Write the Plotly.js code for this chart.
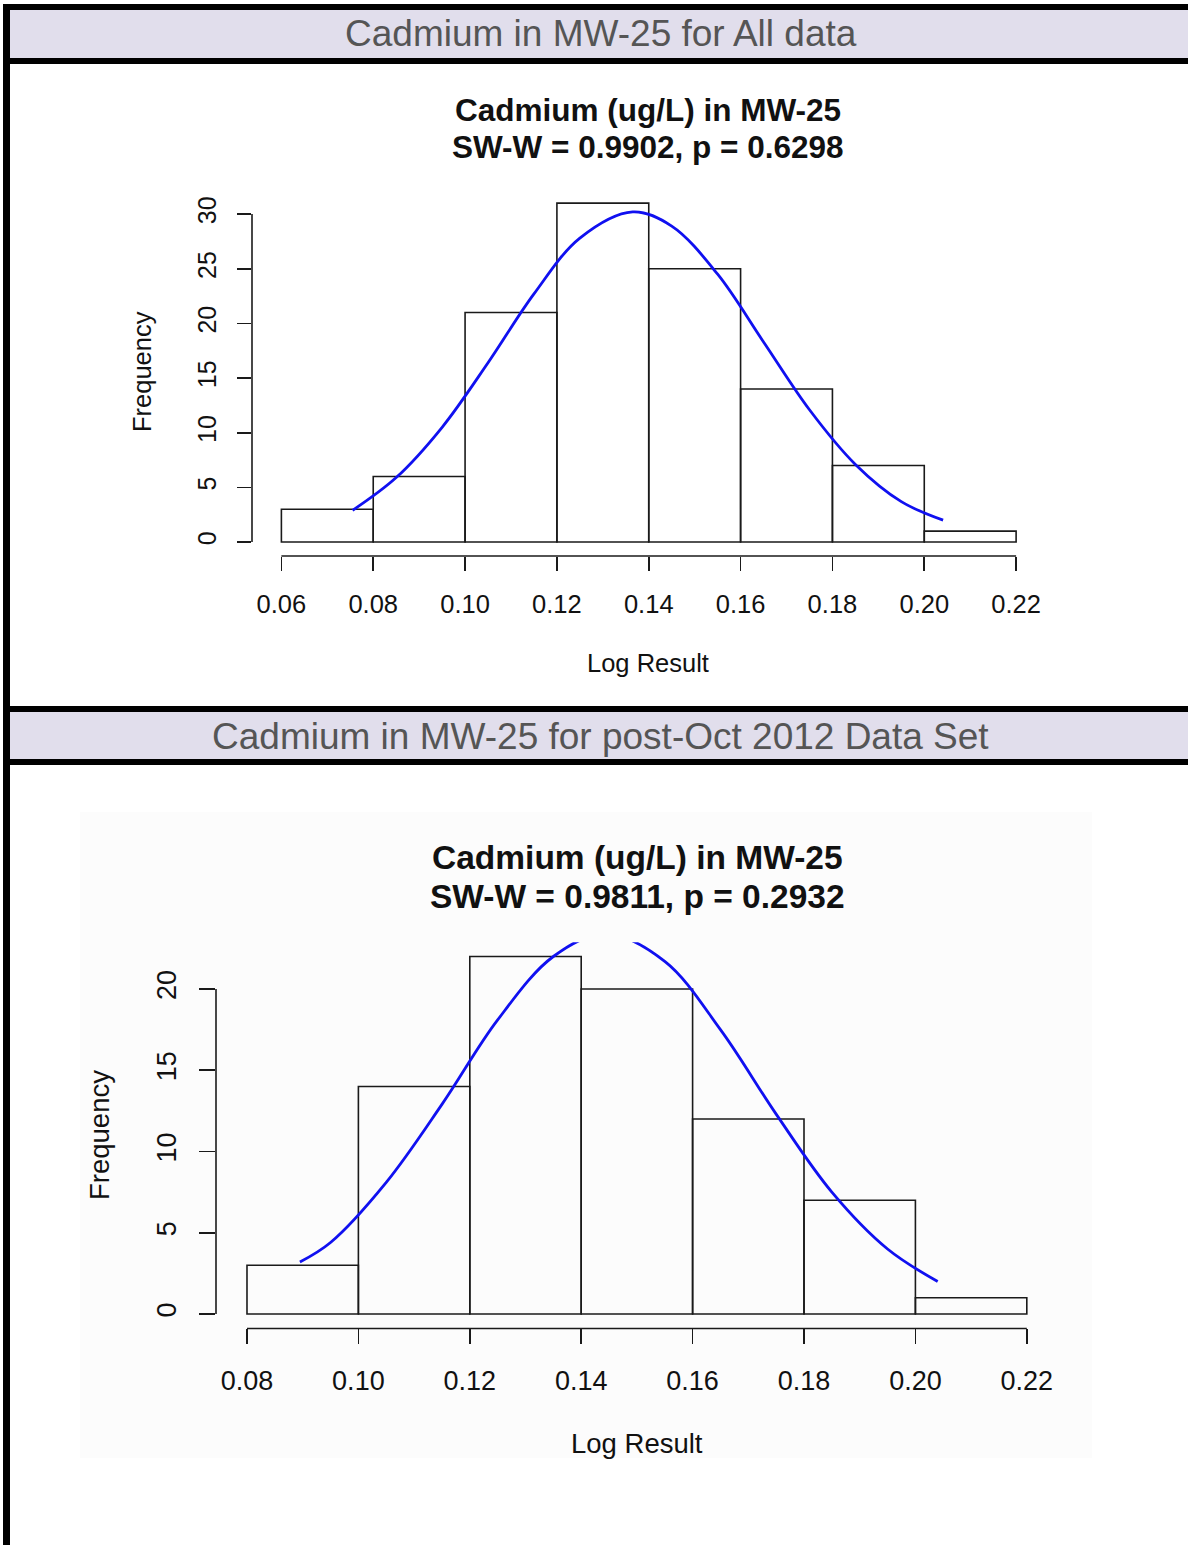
<!DOCTYPE html>
<html><head><meta charset="utf-8">
<script src="https://cdn.plot.ly/plotly-3.0.1.min.js"></script>
<style>html,body{margin:0;padding:0;background:#fff;overflow:hidden;} #chart{width:1188px;height:1545px;}</style>
</head><body><div id="chart"></div>
<script>
// ---------- data ----------
const headerTitles = ["Cadmium in MW-25 for All data", "Cadmium in MW-25 for post-Oct 2012 Data Set"];
const chartTitle1 = ["Cadmium (ug/L) in MW-25", "SW-W = 0.9902, p = 0.6298"];
const chartTitle2 = ["Cadmium (ug/L) in MW-25", "SW-W = 0.9811, p = 0.2932"];
const xLabel = "Log Result";
const yLabel = "Frequency";

// Panel 1 (all data)
const binCenters1 = [0.07, 0.09, 0.11, 0.13, 0.15, 0.17, 0.19, 0.21];
const counts1 = [3, 6, 21, 31, 25, 14, 7, 1];
const curveX1 = [0.0755, 0.085, 0.095, 0.105, 0.115, 0.125, 0.1365, 0.145, 0.155, 0.165, 0.175, 0.185, 0.195, 0.2041];
const curveY1 = [2.9, 5.9, 10.5, 16.4, 22.7, 27.8, 30.2, 28.9, 24.5, 18.3, 12.1, 7.1, 3.7, 2.0];
const xTicks1 = [0.06, 0.08, 0.10, 0.12, 0.14, 0.16, 0.18, 0.20, 0.22];
const xTickText1 = ["0.06", "0.08", "0.10", "0.12", "0.14", "0.16", "0.18", "0.20", "0.22"];
const yTicks1 = [0, 5, 10, 15, 20, 25, 30];

// Panel 2 (post-Oct 2012)
const binCenters2 = [0.09, 0.11, 0.13, 0.15, 0.17, 0.19, 0.21];
const counts2 = [3, 14, 22, 20, 12, 7, 1];
const curveX2 = [0.0895, 0.095, 0.105, 0.115, 0.125, 0.135, 0.1444, 0.155, 0.165, 0.175, 0.185, 0.195, 0.204];
const curveY2 = [3.2, 4.4, 8.1, 12.9, 18.1, 22.0, 23.4, 21.7, 17.5, 12.3, 7.5, 4.0, 2.0];
const xTicks2 = [0.08, 0.10, 0.12, 0.14, 0.16, 0.18, 0.20, 0.22];
const xTickText2 = ["0.08", "0.10", "0.12", "0.14", "0.16", "0.18", "0.20", "0.22"];
const yTicks2 = [0, 5, 10, 15, 20];

// ---------- layout helpers ----------
const W = 1188, H = 1545;
const fx = p => p / W;
const fy = p => 1 - p / H;
const FONT = "Liberation Sans, Arial, sans-serif";
const LAV = "#E1DEEC";

function rangeR(a, b) { const d = (b - a) * 0.04; return [a - d, b + d]; }

const barTrace = (x, y, xa, ya) => ({
  type: "bar", x: x, y: y, width: 0.02, xaxis: xa, yaxis: ya,
  marker: {color: "rgba(255,255,255,0)", line: {color: "#1a1a1a", width: 1.6}},
  hoverinfo: "skip", showlegend: false
});
const curveTrace = (x, y, xa, ya) => ({
  type: "scatter", mode: "lines", x: x, y: y, xaxis: xa, yaxis: ya,
  line: {color: "#1010F0", width: 2.8, shape: "spline", smoothing: 1.0},
  hoverinfo: "skip", showlegend: false
});

const data = [
  barTrace(binCenters1, counts1, "x", "y"),
  curveTrace(curveX1, curveY1, "x", "y"),
  barTrace(binCenters2, counts2, "x2", "y2"),
  curveTrace(curveX2, curveY2, "x2", "y2")
];

const axisBase = (size, standoff, len) => ({
  showgrid: false, zeroline: false, showline: false,
  ticks: "outside", ticklen: len, tickwidth: 1.6, tickcolor: "#1a1a1a",
  tickmode: "array", tickfont: {family: FONT, size: size, color: "#111"},
  ticklabelstandoff: standoff, fixedrange: true
});

const shapes = [];
// grey background of second figure image
shapes.push({type: "rect", xref: "paper", yref: "paper", x0: fx(80), x1: fx(1092), y0: fy(1458), y1: fy(812), fillcolor: "#FCFCFC", line: {width: 0}, layer: "below"});
// header bands
[[10, 58], [712, 759]].forEach(([a, b]) => {
  shapes.push({type: "rect", xref: "paper", yref: "paper", x0: fx(10), x1: 1, y0: fy(b), y1: fy(a), fillcolor: LAV, line: {width: 0}, layer: "below"});
});
// black border bars
[[4, 10], [58, 64], [706, 712], [759, 765]].forEach(([a, b]) => {
  shapes.push({type: "rect", xref: "paper", yref: "paper", x0: fx(3), x1: 1, y0: fy(b), y1: fy(a), fillcolor: "#000", line: {width: 0}});
});
shapes.push({type: "rect", xref: "paper", yref: "paper", x0: fx(3), x1: fx(10), y0: 0, y1: fy(4), fillcolor: "#000", line: {width: 0}});
// R-style axis lines spanning only the tick range
shapes.push({type: "line", xref: "x", yref: "paper", x0: xTicks1[0], x1: xTicks1[xTicks1.length - 1], y0: fy(556), y1: fy(556), line: {color: "#1a1a1a", width: 1.6}});
shapes.push({type: "line", xref: "paper", yref: "y", x0: fx(252), x1: fx(252), y0: yTicks1[0], y1: yTicks1[yTicks1.length - 1], line: {color: "#1a1a1a", width: 1.6}});
shapes.push({type: "line", xref: "x2", yref: "paper", x0: xTicks2[0], x1: xTicks2[xTicks2.length - 1], y0: fy(1328.5), y1: fy(1328.5), line: {color: "#1a1a1a", width: 1.6}});
shapes.push({type: "line", xref: "paper", yref: "y2", x0: fx(216), x1: fx(216), y0: yTicks2[0], y1: yTicks2[yTicks2.length - 1], line: {color: "#1a1a1a", width: 1.6}});

const ann = (text, px, py, size, opts) => Object.assign({
  text: text, xref: "paper", yref: "paper", x: fx(px), y: fy(py), xanchor: "center", yanchor: "middle",
  showarrow: false, font: {family: FONT, size: size, color: "#111"}
}, opts || {});

const headerFont = {family: "Liberation Sans Narrow, Arial Narrow, Liberation Sans, sans-serif", size: 37, color: "#555"};
const titleFont1 = {family: FONT, size: 31.5, color: "#111", weight: "bold"};
const titleFont2 = {family: FONT, size: 33.5, color: "#111", weight: "bold"};

const annotations = [
  ann(headerTitles[0], 601, 34, 37, {font: headerFont}),
  ann(headerTitles[1], 601, 736, 37, {font: headerFont}),
  ann("<b>" + chartTitle1[0] + "</b>", 648, 110, 31, {font: titleFont1}),
  ann("<b>" + chartTitle1[1] + "</b>", 648, 147, 31, {font: titleFont1}),
  ann("<b>" + chartTitle2[0] + "</b>", 637, 858, 33, {font: titleFont2}),
  ann("<b>" + chartTitle2[1] + "</b>", 637, 896, 33, {font: titleFont2}),
  ann(yLabel, 142, 372, 25.5, {textangle: -90}),
  ann(xLabel, 648, 663, 25.5),
  ann(yLabel, 99, 1135, 27.5, {textangle: -90}),
  ann(xLabel, 637, 1443, 27.5)
];

const layout = {
  width: W, height: H, margin: {l: 0, r: 0, t: 0, b: 0},
  paper_bgcolor: "#fff", plot_bgcolor: "rgba(0,0,0,0)",
  showlegend: false, bargap: 0,
  xaxis: Object.assign(axisBase(25.5, 12, 14), {domain: [fx(252), fx(1045.5)], range: rangeR(0.06, 0.22), tickvals: xTicks1, ticktext: xTickText1, anchor: "y"}),
  yaxis: Object.assign(axisBase(25, 11, 14), {tickangle: -90, domain: [fy(555.6), fy(189.6)], range: rangeR(0, 31), tickvals: yTicks1, anchor: "x"}),
  xaxis2: Object.assign(axisBase(27, 13, 15), {domain: [fx(215.8), fx(1058)], range: rangeR(0.08, 0.22), tickvals: xTicks2, ticktext: xTickText2, anchor: "y2"}),
  yaxis2: Object.assign(axisBase(27, 12, 16), {tickangle: -90, domain: [fy(1328.3), fy(942.2)], range: rangeR(0, 22), tickvals: yTicks2, anchor: "x2"}),
  shapes: shapes,
  annotations: annotations
};

Plotly.newPlot("chart", data, layout, {displayModeBar: false, staticPlot: true});
</script>
</body></html>
